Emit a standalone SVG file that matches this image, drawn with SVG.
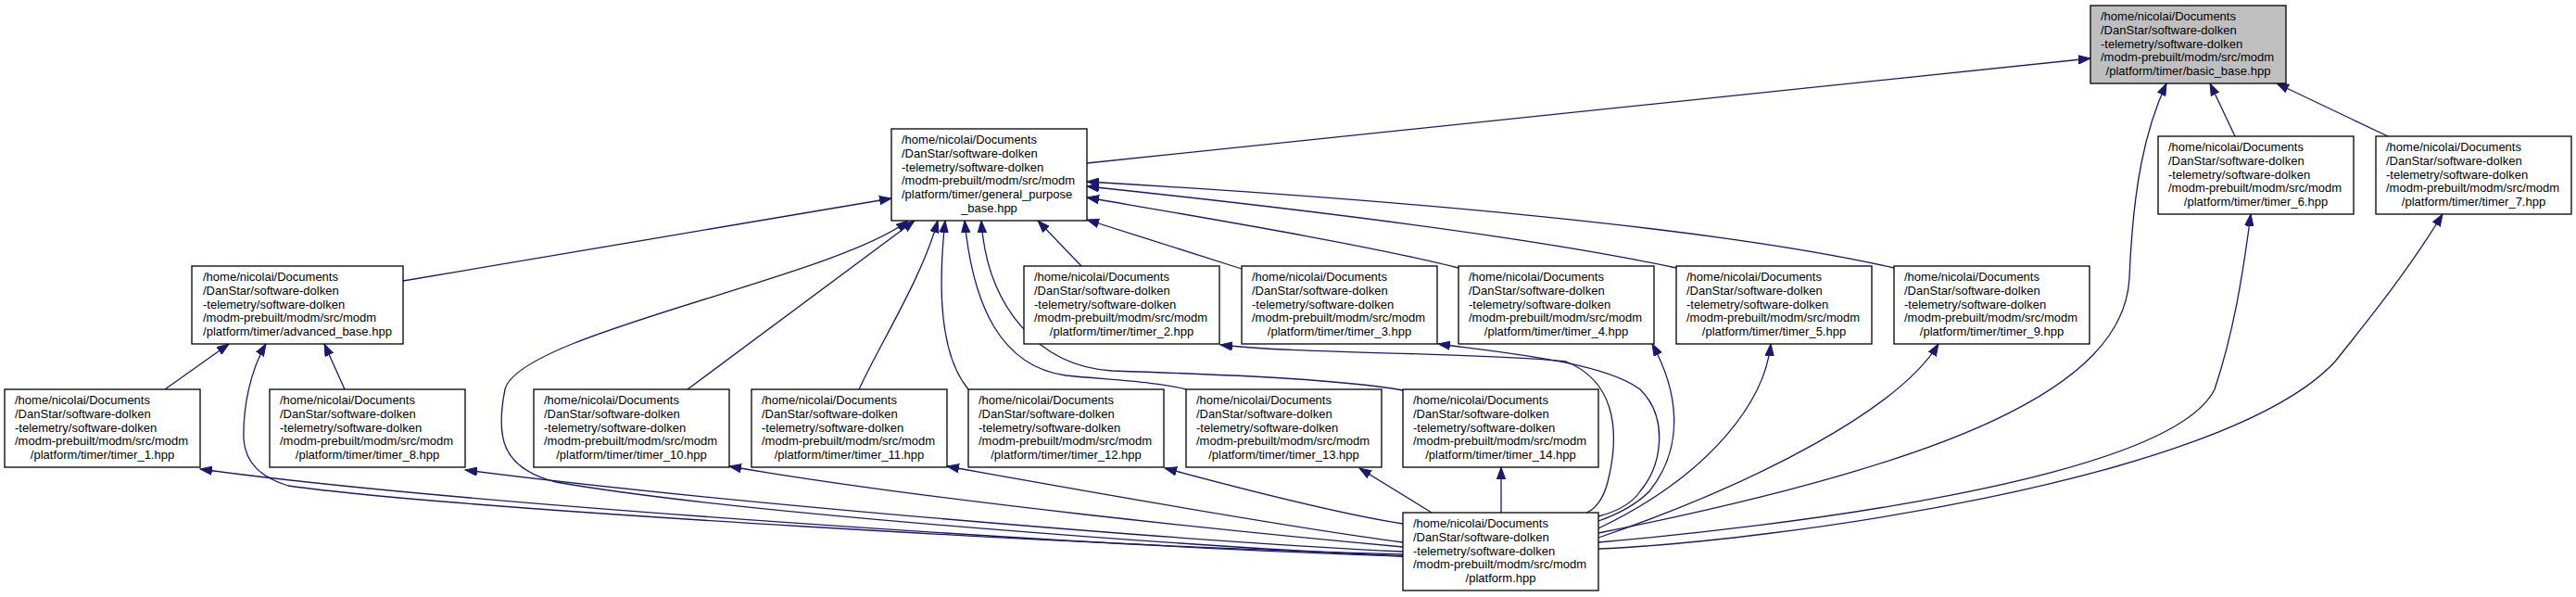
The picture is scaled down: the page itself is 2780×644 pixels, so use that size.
<svg xmlns="http://www.w3.org/2000/svg" width="2780" height="644" viewBox="0 0 2780 644">
<style>
.box{fill:#fff;stroke:#000;stroke-width:1.3}
.hl{fill:#bfbfbf}
text{font-family:"Liberation Sans",Arial,Helvetica,sans-serif;font-size:13px;fill:#000}
.c{text-anchor:middle}
.e{fill:none;stroke:#191970;stroke-width:1.3;marker-start:url(#ah)}
</style>
<defs>
<marker id="ah" markerUnits="userSpaceOnUse" markerWidth="14" markerHeight="10" refX="13" refY="5" orient="auto-start-reverse">
<path d="M0,0.3 L13,5 L0,9.7 Z" fill="#191970" stroke="#191970" stroke-width="1"/>
</marker>
</defs>
<rect width="2780" height="644" fill="#fff"/>
<g id="edges">
<path class="e" d="M2256,63 L1173,176"/>
<path class="e" d="M2385,90 L2412,147"/>
<path class="e" d="M2457,90 L2577,147"/>
<path class="e" d="M2338,90 C2315,140 2302,200 2298,300 C2292,420 2100,500 1725,575"/>
<path class="e" d="M962,214 L435,303"/>
<path class="e" d="M1120,238 L1167,287"/>
<path class="e" d="M1173,237 L1340,290"/>
<path class="e" d="M1173,213 C1300,235 1480,265 1574,289"/>
<path class="e" d="M1173,201 C1400,225 1650,255 1809,289"/>
<path class="e" d="M1173,196 C1500,215 1850,245 2044,289"/>
<path class="e" d="M987,238 L742,420"/>
<path class="e" d="M1012,238 C995,300 950,370 927,420"/>
<path class="e" d="M1020,238 C1010,330 1020,390 1045,420"/>
<path class="e" d="M1041,238 C1050,330 1080,395 1150,405 C1200,410 1250,412 1280,420"/>
<path class="e" d="M1059,238 C1065,330 1120,395 1200,400 C1350,405 1450,410 1514,421"/>
<path class="e" d="M980,238 C900,300 560,360 545,420 C535,470 540,505 600,520 C800,555 1300,590 1514,600"/>
<path class="e" d="M247,371 L178,420"/>
<path class="e" d="M350,371 L372,420"/>
<path class="e" d="M287,371 C270,400 262,440 263,474 C265,500 282,515 311,524 C500,550 1200,590 1514,598"/>
<path class="e" d="M216,506 C500,545 1200,590 1514,600"/>
<path class="e" d="M502,507 C800,545 1300,585 1514,595"/>
<path class="e" d="M787,503 C1000,540 1350,575 1514,590"/>
<path class="e" d="M1022,503 C1200,535 1400,570 1514,585"/>
<path class="e" d="M1257,505 C1350,530 1450,555 1514,565"/>
<path class="e" d="M1467,505 L1545,553"/>
<path class="e" d="M1620,504 L1620,553"/>
<path class="e" d="M1317,372 C1400,382 1600,380 1690,390 C1740,410 1750,460 1735,520 C1730,540 1720,550 1712,553"/>
<path class="e" d="M1552,371 C1620,380 1730,390 1770,420 C1800,450 1795,500 1770,530 C1760,545 1740,553 1725,557"/>
<path class="e" d="M1783,371 C1810,420 1820,480 1780,530 C1765,545 1745,555 1725,562"/>
<path class="e" d="M1911,371 C1905,430 1850,510 1725,570"/>
<path class="e" d="M2092,371 C2050,440 1900,520 1725,580"/>
<path class="e" d="M2429,231 C2420,300 2410,360 2390,420 C2340,520 1900,570 1725,585"/>
<path class="e" d="M2636,231 C2600,290 2560,340 2520,390 C2400,520 1900,585 1725,592"/>
</g>
<g id="node-basic_base">
<rect class="box hl" x="2256" y="6" width="211" height="84"/>
<text x="2267" y="22">/home/nicolai/Documents</text>
<text x="2267" y="36.8">/DanStar/software-dolken</text>
<text x="2267" y="51.6">-telemetry/software-dolken</text>
<text x="2267" y="66.4">/modm-prebuilt/modm/src/modm</text>
<text class="c" x="2361.5" y="81.2">/platform/timer/basic_base.hpp</text>
</g>
<g id="node-general_purpose_base">
<rect class="box" x="962" y="139" width="211" height="99"/>
<text x="973" y="155">/home/nicolai/Documents</text>
<text x="973" y="169.8">/DanStar/software-dolken</text>
<text x="973" y="184.6">-telemetry/software-dolken</text>
<text x="973" y="199.4">/modm-prebuilt/modm/src/modm</text>
<text x="973" y="214.2">/platform/timer/general_purpose</text>
<text class="c" x="1067.5" y="229">_base.hpp</text>
</g>
<g id="node-timer_6">
<rect class="box" x="2329" y="147" width="211" height="84"/>
<text x="2340" y="163">/home/nicolai/Documents</text>
<text x="2340" y="177.8">/DanStar/software-dolken</text>
<text x="2340" y="192.6">-telemetry/software-dolken</text>
<text x="2340" y="207.4">/modm-prebuilt/modm/src/modm</text>
<text class="c" x="2434.5" y="222.2">/platform/timer/timer_6.hpp</text>
</g>
<g id="node-timer_7">
<rect class="box" x="2564" y="147" width="211" height="84"/>
<text x="2575" y="163">/home/nicolai/Documents</text>
<text x="2575" y="177.8">/DanStar/software-dolken</text>
<text x="2575" y="192.6">-telemetry/software-dolken</text>
<text x="2575" y="207.4">/modm-prebuilt/modm/src/modm</text>
<text class="c" x="2669.5" y="222.2">/platform/timer/timer_7.hpp</text>
</g>
<g id="node-advanced_base">
<rect class="box" x="207" y="287" width="228" height="84"/>
<text x="219" y="303">/home/nicolai/Documents</text>
<text x="219" y="317.8">/DanStar/software-dolken</text>
<text x="219" y="332.6">-telemetry/software-dolken</text>
<text x="219" y="347.4">/modm-prebuilt/modm/src/modm</text>
<text class="c" x="321" y="362.2">/platform/timer/advanced_base.hpp</text>
</g>
<g id="node-timer_2">
<rect class="box" x="1105" y="287" width="211" height="84"/>
<text x="1116" y="303">/home/nicolai/Documents</text>
<text x="1116" y="317.8">/DanStar/software-dolken</text>
<text x="1116" y="332.6">-telemetry/software-dolken</text>
<text x="1116" y="347.4">/modm-prebuilt/modm/src/modm</text>
<text class="c" x="1210.5" y="362.2">/platform/timer/timer_2.hpp</text>
</g>
<g id="node-timer_3">
<rect class="box" x="1340" y="287" width="211" height="84"/>
<text x="1351" y="303">/home/nicolai/Documents</text>
<text x="1351" y="317.8">/DanStar/software-dolken</text>
<text x="1351" y="332.6">-telemetry/software-dolken</text>
<text x="1351" y="347.4">/modm-prebuilt/modm/src/modm</text>
<text class="c" x="1445.5" y="362.2">/platform/timer/timer_3.hpp</text>
</g>
<g id="node-timer_4">
<rect class="box" x="1574" y="287" width="211" height="84"/>
<text x="1585" y="303">/home/nicolai/Documents</text>
<text x="1585" y="317.8">/DanStar/software-dolken</text>
<text x="1585" y="332.6">-telemetry/software-dolken</text>
<text x="1585" y="347.4">/modm-prebuilt/modm/src/modm</text>
<text class="c" x="1679.5" y="362.2">/platform/timer/timer_4.hpp</text>
</g>
<g id="node-timer_5">
<rect class="box" x="1809" y="287" width="211" height="84"/>
<text x="1820" y="303">/home/nicolai/Documents</text>
<text x="1820" y="317.8">/DanStar/software-dolken</text>
<text x="1820" y="332.6">-telemetry/software-dolken</text>
<text x="1820" y="347.4">/modm-prebuilt/modm/src/modm</text>
<text class="c" x="1914.5" y="362.2">/platform/timer/timer_5.hpp</text>
</g>
<g id="node-timer_9">
<rect class="box" x="2044" y="287" width="211" height="84"/>
<text x="2055" y="303">/home/nicolai/Documents</text>
<text x="2055" y="317.8">/DanStar/software-dolken</text>
<text x="2055" y="332.6">-telemetry/software-dolken</text>
<text x="2055" y="347.4">/modm-prebuilt/modm/src/modm</text>
<text class="c" x="2149.5" y="362.2">/platform/timer/timer_9.hpp</text>
</g>
<g id="node-timer_1">
<rect class="box" x="5" y="420" width="211" height="84"/>
<text x="16" y="436">/home/nicolai/Documents</text>
<text x="16" y="450.8">/DanStar/software-dolken</text>
<text x="16" y="465.6">-telemetry/software-dolken</text>
<text x="16" y="480.4">/modm-prebuilt/modm/src/modm</text>
<text class="c" x="110.5" y="495.2">/platform/timer/timer_1.hpp</text>
</g>
<g id="node-timer_8">
<rect class="box" x="291" y="420" width="211" height="84"/>
<text x="302" y="436">/home/nicolai/Documents</text>
<text x="302" y="450.8">/DanStar/software-dolken</text>
<text x="302" y="465.6">-telemetry/software-dolken</text>
<text x="302" y="480.4">/modm-prebuilt/modm/src/modm</text>
<text class="c" x="396.5" y="495.2">/platform/timer/timer_8.hpp</text>
</g>
<g id="node-timer_10">
<rect class="box" x="576" y="420" width="211" height="84"/>
<text x="587" y="436">/home/nicolai/Documents</text>
<text x="587" y="450.8">/DanStar/software-dolken</text>
<text x="587" y="465.6">-telemetry/software-dolken</text>
<text x="587" y="480.4">/modm-prebuilt/modm/src/modm</text>
<text class="c" x="681.5" y="495.2">/platform/timer/timer_10.hpp</text>
</g>
<g id="node-timer_11">
<rect class="box" x="811" y="420" width="211" height="84"/>
<text x="822" y="436">/home/nicolai/Documents</text>
<text x="822" y="450.8">/DanStar/software-dolken</text>
<text x="822" y="465.6">-telemetry/software-dolken</text>
<text x="822" y="480.4">/modm-prebuilt/modm/src/modm</text>
<text class="c" x="916.5" y="495.2">/platform/timer/timer_11.hpp</text>
</g>
<g id="node-timer_12">
<rect class="box" x="1045" y="420" width="211" height="84"/>
<text x="1056" y="436">/home/nicolai/Documents</text>
<text x="1056" y="450.8">/DanStar/software-dolken</text>
<text x="1056" y="465.6">-telemetry/software-dolken</text>
<text x="1056" y="480.4">/modm-prebuilt/modm/src/modm</text>
<text class="c" x="1150.5" y="495.2">/platform/timer/timer_12.hpp</text>
</g>
<g id="node-timer_13">
<rect class="box" x="1280" y="420" width="211" height="84"/>
<text x="1291" y="436">/home/nicolai/Documents</text>
<text x="1291" y="450.8">/DanStar/software-dolken</text>
<text x="1291" y="465.6">-telemetry/software-dolken</text>
<text x="1291" y="480.4">/modm-prebuilt/modm/src/modm</text>
<text class="c" x="1385.5" y="495.2">/platform/timer/timer_13.hpp</text>
</g>
<g id="node-timer_14">
<rect class="box" x="1514" y="420" width="211" height="84"/>
<text x="1525" y="436">/home/nicolai/Documents</text>
<text x="1525" y="450.8">/DanStar/software-dolken</text>
<text x="1525" y="465.6">-telemetry/software-dolken</text>
<text x="1525" y="480.4">/modm-prebuilt/modm/src/modm</text>
<text class="c" x="1619.5" y="495.2">/platform/timer/timer_14.hpp</text>
</g>
<g id="node-platform">
<rect class="box" x="1514" y="553" width="211" height="84"/>
<text x="1525" y="569">/home/nicolai/Documents</text>
<text x="1525" y="583.8">/DanStar/software-dolken</text>
<text x="1525" y="598.6">-telemetry/software-dolken</text>
<text x="1525" y="613.4">/modm-prebuilt/modm/src/modm</text>
<text class="c" x="1619.5" y="628.2">/platform.hpp</text>
</g>
</svg>
